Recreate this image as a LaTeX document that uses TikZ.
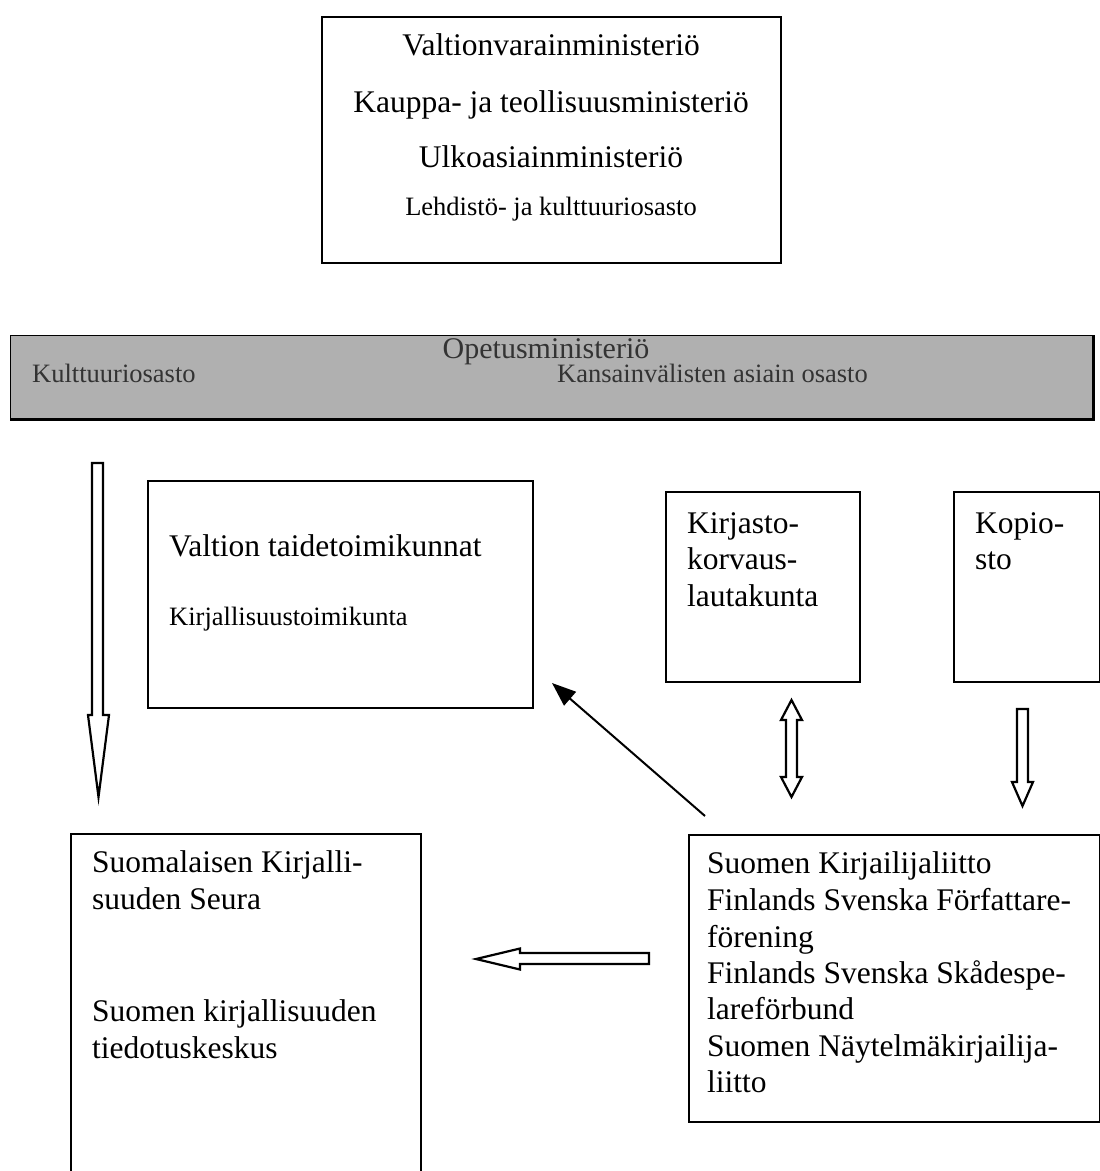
\documentclass[tikz,border=0pt]{standalone}
\usepackage{fontspec}
\setmainfont{Liberation Serif}
\usetikzlibrary{arrows.meta}
\definecolor{bandgray}{RGB}{176,176,176}
\tikzset{
  box/.style={draw, line width=2pt, inner sep=0pt, anchor=north west},
  big/.style={inner sep=0pt, font=\fontsize{31.5}{36}\selectfont},
  small/.style={inner sep=0pt, font=\fontsize{26.5}{31}\selectfont},
  bandtxt/.style={inner sep=0pt, text=black!80, font=\fontsize{26.5}{31}\selectfont},
  hollow/.style={draw, line width=2.2pt, fill=white, line join=miter},
}
\begin{document}
\begin{tikzpicture}[x=1pt,y=-1pt]
\useasboundingbox (0,0) rectangle (1100,1171);
\clip (0,0) rectangle (1100,1171);

% top box
\node[box, minimum width=459pt, minimum height=246pt] (top) at (321,16) {};
\node[big, anchor=base] (m1) at (551,55) {Valtionvarainministeriö};
\node[big, anchor=base] (m2) at (551,112) {Kauppa- ja teollisuusministeriö};
\node[big, anchor=base] (m3) at (551,167) {Ulkoasiainministeriö};
\node[small, anchor=base] (m4) at (551,215) {Lehdistö- ja kulttuuriosasto};

% grey band
\node[box, fill=bandgray, line width=1.4pt, minimum width=1082pt, minimum height=83pt] (band) at (10,335) {};
\draw[line width=2.6pt] (band.south west) -- (band.south east) -- (band.north east);
\node[bandtxt, anchor=base, text depth=0pt, font=\fontsize{30}{34}\selectfont] (opm) at (546,358) {Opetusministeriö};
\node[bandtxt, anchor=base west] (kos) at (32,382) {Kulttuuriosasto};
\node[bandtxt, anchor=base west] (kvo) at (557,382) {Kansainvälisten asiain osasto};

% Valtion taidetoimikunnat
\node[box, minimum width=385pt, minimum height=227pt] (taide) at (147,480) {};
\node[big, anchor=base west] (t1) at (169,556) {Valtion taidetoimikunnat};
\node[small, anchor=base west] (t2) at (169,625) {Kirjallisuustoimikunta};

% Kirjasto box
\node[box, minimum width=194pt, minimum height=190pt] (kirj) at (665,491) {};
\node[big, anchor=base west] (k1) at (687,533) {Kirjasto-};
\node[big, anchor=base west] (k2) at (687,569.5) {korvaus-};
\node[big, anchor=base west] (k3) at (687,606) {lautakunta};

% Kopiosto box
\node[box, minimum width=146pt, minimum height=190pt] (kop) at (953,491) {};
\node[big, anchor=base west] (c1) at (975,533) {Kopio-};
\node[big, anchor=base west] (c2) at (975,569.5) {sto};

% bottom left box
\node[box, minimum width=350pt, minimum height=360pt] (sks) at (70,833) {};
\node[big, anchor=base west] (s1) at (92,872) {Suomalaisen Kirjalli-};
\node[big, anchor=base west] (s2) at (92,909) {suuden Seura};
\node[big, anchor=base west] (s3) at (92,1021) {Suomen kirjallisuuden};
\node[big, anchor=base west] (s4) at (92,1058) {tiedotuskeskus};

% bottom right box
\node[box, minimum width=411pt, minimum height=287pt] (liit) at (688,834) {};
\node[big, anchor=base west] (l1) at (707,873) {Suomen Kirjailijaliitto};
\node[big, anchor=base west] (l2) at (707,910) {Finlands Svenska Författare-};
\node[big, anchor=base west] (l3) at (707,947) {förening};
\node[big, anchor=base west] (l4) at (707,983) {Finlands Svenska Skådespe-};
\node[big, anchor=base west] (l5) at (707,1019) {lareförbund};
\node[big, anchor=base west] (l6) at (707,1056) {Suomen Näytelmäkirjailija-};
\node[big, anchor=base west] (l7) at (707,1092) {liitto};

% hollow block arrows
\path[hollow] (92,463) -- (103,463) -- (103,715) -- (109,715) -- (98.5,797)
  -- (88,715) -- (92,715) -- cycle;
\path[hollow] (791.5,700) -- (802,720) -- (797,720) -- (797,777) -- (802,777)
  -- (791.5,797) -- (781,777) -- (786,777) -- (786,720) -- (781,720) -- cycle;
\path[hollow] (1017,709) -- (1028,709) -- (1028,782) -- (1033,782) -- (1022.5,806)
  -- (1012,782) -- (1017,782) -- cycle;
\path[hollow] (649,953) -- (649,964) -- (520,964) -- (520,969.5) -- (476,959)
  -- (520,948.5) -- (520,953) -- cycle;

% thin arrow
\coordinate (ta) at (705,816);
\coordinate (tb) at (552,683);
\draw[line width=2pt, -{Triangle[length=24pt,width=18pt]}] (ta) -- (tb);
\end{tikzpicture}
\end{document}
